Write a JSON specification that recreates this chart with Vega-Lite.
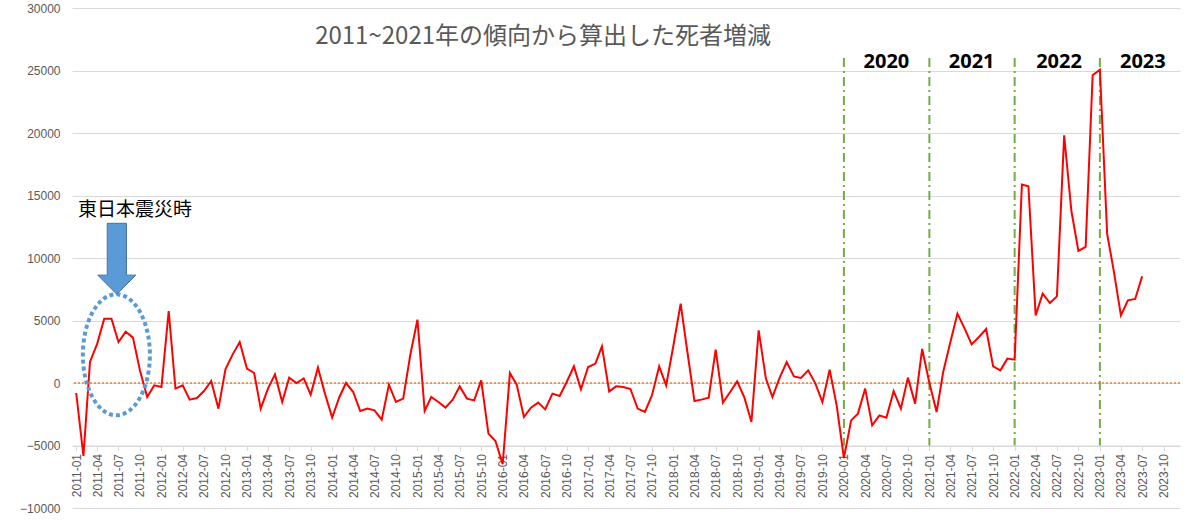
{
  "$schema": "https://vega.github.io/schema/vega-lite/v6.json",
  "width": 1108,
  "height": 500,
  "autosize": {"type": "none"},
  "padding": {"left": 72, "top": 8, "right": 20, "bottom": 14},
  "background": "white",
  "config": {
    "view": {"stroke": null},
    "axisY": {"domain": false, "ticks": false, "tickSize": 0, "labelPadding": 12, "labelFont": "Liberation Sans", "labelFontSize": 12, "labelColor": "#595959", "grid": true, "gridColor": "#D9D9D9", "gridWidth": 1},
    "axisX": {"labelAngle": -90, "labelFont": "Liberation Sans", "labelFontSize": 12, "labelColor": "#595959", "labelPadding": 3, "grid": false, "domain": true, "domainColor": "#D9D9D9", "ticks": true, "tickColor": "#D9D9D9", "tickSize": 5, "labelOverlap": false, "labelFlush": false}
  },
  "datasets": {
    "series": [
      {"date": "2011/01/01", "value": -800}, {"date": "2011/02/01", "value": -5840}, {"date": "2011/03/01", "value": 1680}, {"date": "2011/04/01", "value": 3150},
      {"date": "2011/05/01", "value": 5150}, {"date": "2011/06/01", "value": 5150}, {"date": "2011/07/01", "value": 3280}, {"date": "2011/08/01", "value": 4100},
      {"date": "2011/09/01", "value": 3630}, {"date": "2011/10/01", "value": 1000}, {"date": "2011/11/01", "value": -1120}, {"date": "2011/12/01", "value": -190},
      {"date": "2012/01/01", "value": -320}, {"date": "2012/02/01", "value": 5760}, {"date": "2012/03/01", "value": -450}, {"date": "2012/04/01", "value": -190},
      {"date": "2012/05/01", "value": -1330}, {"date": "2012/06/01", "value": -1200}, {"date": "2012/07/01", "value": -640}, {"date": "2012/08/01", "value": 160},
      {"date": "2012/09/01", "value": -2050}, {"date": "2012/10/01", "value": 1090}, {"date": "2012/11/01", "value": 2290}, {"date": "2012/12/01", "value": 3280},
      {"date": "2013/01/01", "value": 1150}, {"date": "2013/02/01", "value": 800}, {"date": "2013/03/01", "value": -2050}, {"date": "2013/04/01", "value": -450},
      {"date": "2013/05/01", "value": 690}, {"date": "2013/06/01", "value": -1520}, {"date": "2013/07/01", "value": 430}, {"date": "2013/08/01", "value": 0},
      {"date": "2013/09/01", "value": 370}, {"date": "2013/10/01", "value": -930}, {"date": "2013/11/01", "value": 1230}, {"date": "2013/12/01", "value": -850},
      {"date": "2014/01/01", "value": -2770}, {"date": "2014/02/01", "value": -1120}, {"date": "2014/03/01", "value": 0}, {"date": "2014/04/01", "value": -720},
      {"date": "2014/05/01", "value": -2240}, {"date": "2014/06/01", "value": -2050}, {"date": "2014/07/01", "value": -2190}, {"date": "2014/08/01", "value": -2930},
      {"date": "2014/09/01", "value": -130}, {"date": "2014/10/01", "value": -1520}, {"date": "2014/11/01", "value": -1250}, {"date": "2014/12/01", "value": 2200},
      {"date": "2015/01/01", "value": 5070}, {"date": "2015/02/01", "value": -2240}, {"date": "2015/03/01", "value": -1120}, {"date": "2015/04/01", "value": -1520},
      {"date": "2015/05/01", "value": -1970}, {"date": "2015/06/01", "value": -1330}, {"date": "2015/07/01", "value": -270}, {"date": "2015/08/01", "value": -1250},
      {"date": "2015/09/01", "value": -1390}, {"date": "2015/10/01", "value": 210}, {"date": "2015/11/01", "value": -4050}, {"date": "2015/12/01", "value": -4640},
      {"date": "2016/01/01", "value": -6500}, {"date": "2016/02/01", "value": 800}, {"date": "2016/03/01", "value": -130}, {"date": "2016/04/01", "value": -2720},
      {"date": "2016/05/01", "value": -1970}, {"date": "2016/06/01", "value": -1570}, {"date": "2016/07/01", "value": -2110}, {"date": "2016/08/01", "value": -850},
      {"date": "2016/09/01", "value": -1040}, {"date": "2016/10/01", "value": 80}, {"date": "2016/11/01", "value": 1330}, {"date": "2016/12/01", "value": -510},
      {"date": "2017/01/01", "value": 1280}, {"date": "2017/02/01", "value": 1550}, {"date": "2017/03/01", "value": 2930}, {"date": "2017/04/01", "value": -670},
      {"date": "2017/05/01", "value": -270}, {"date": "2017/06/01", "value": -320}, {"date": "2017/07/01", "value": -480}, {"date": "2017/08/01", "value": -2050},
      {"date": "2017/09/01", "value": -2320}, {"date": "2017/10/01", "value": -990}, {"date": "2017/11/01", "value": 1330}, {"date": "2017/12/01", "value": -190},
      {"date": "2018/01/01", "value": 3000}, {"date": "2018/02/01", "value": 6350}, {"date": "2018/03/01", "value": 2600}, {"date": "2018/04/01", "value": -1440},
      {"date": "2018/05/01", "value": -1330}, {"date": "2018/06/01", "value": -1170}, {"date": "2018/07/01", "value": 2670}, {"date": "2018/08/01", "value": -1570},
      {"date": "2018/09/01", "value": -720}, {"date": "2018/10/01", "value": 130}, {"date": "2018/11/01", "value": -1170}, {"date": "2018/12/01", "value": -3120},
      {"date": "2019/01/01", "value": 4210}, {"date": "2019/02/01", "value": 350}, {"date": "2019/03/01", "value": -1120}, {"date": "2019/04/01", "value": 430},
      {"date": "2019/05/01", "value": 1680}, {"date": "2019/06/01", "value": 530}, {"date": "2019/07/01", "value": 400}, {"date": "2019/08/01", "value": 1010},
      {"date": "2019/09/01", "value": -50}, {"date": "2019/10/01", "value": -1520}, {"date": "2019/11/01", "value": 1070}, {"date": "2019/12/01", "value": -1790},
      {"date": "2020/01/01", "value": -6000}, {"date": "2020/02/01", "value": -2990}, {"date": "2020/03/01", "value": -2450}, {"date": "2020/04/01", "value": -450},
      {"date": "2020/05/01", "value": -3390}, {"date": "2020/06/01", "value": -2590}, {"date": "2020/07/01", "value": -2770}, {"date": "2020/08/01", "value": -640},
      {"date": "2020/09/01", "value": -2050}, {"date": "2020/10/01", "value": 430}, {"date": "2020/11/01", "value": -1650}, {"date": "2020/12/01", "value": 2720},
      {"date": "2021/01/01", "value": 0}, {"date": "2021/02/01", "value": -2320}, {"date": "2021/03/01", "value": 880}, {"date": "2021/04/01", "value": 3280},
      {"date": "2021/05/01", "value": 5550}, {"date": "2021/06/01", "value": 4350}, {"date": "2021/07/01", "value": 3090}, {"date": "2021/08/01", "value": 3680},
      {"date": "2021/09/01", "value": 4320}, {"date": "2021/10/01", "value": 1330}, {"date": "2021/11/01", "value": 1010}, {"date": "2021/12/01", "value": 1950},
      {"date": "2022/01/01", "value": 1870}, {"date": "2022/02/01", "value": 15870}, {"date": "2022/03/01", "value": 15730}, {"date": "2022/04/01", "value": 5410},
      {"date": "2022/05/01", "value": 7150}, {"date": "2022/06/01", "value": 6400}, {"date": "2022/07/01", "value": 6930}, {"date": "2022/08/01", "value": 19820},
      {"date": "2022/09/01", "value": 13760}, {"date": "2022/10/01", "value": 10560}, {"date": "2022/11/01", "value": 10880}, {"date": "2022/12/01", "value": 24620},
      {"date": "2023/01/01", "value": 25070}, {"date": "2023/02/01", "value": 11950}, {"date": "2023/03/01", "value": 9010}, {"date": "2023/04/01", "value": 5410},
      {"date": "2023/05/01", "value": 6610}, {"date": "2023/06/01", "value": 6720}, {"date": "2023/07/01", "value": 8530}
    ],
    "dividers": [
      {"date": "2020/01/01", "top": 26000, "bottom": -5000}, {"date": "2021/01/01", "top": 26000, "bottom": -5000},
      {"date": "2022/01/01", "top": 26000, "bottom": -5000}, {"date": "2023/01/01", "top": 26000, "bottom": -5000}
    ],
    "zero": [{"value": 0}],
    "years": [
      {"date": "2020/07/01", "value": 25700, "text": "2020"},
      {"date": "2021/07/01", "value": 25700, "text": "2021"},
      {"date": "2022/07/10", "value": 25700, "text": "2022"},
      {"date": "2023/07/04", "value": 25700, "text": "2023"}
    ],
    "title": [
      {"date": "2016/06/22", "value": 27650, "text": "2011~2021年の傾向から算出した死者増減"}
    ],
    "note": [
      {"date": "2011/09/10", "value": 13820, "text": "東日本震災時"}
    ],
    "ellipse": [{"date": "2011/06/22", "value": 2256}],
    "arrow": [{"date": "2011/06/24", "value": 9936}]
  },
  "layer": [
    {
      "data": {"name": "zero"},
      "mark": {"type": "rule", "color": "#ED7D31", "strokeWidth": 1.5, "strokeDash": [2, 2]},
      "encoding": {
        "y": {"field": "value", "type": "quantitative",
          "scale": {"domain": [-10000, 30000], "nice": false, "zero": false},
          "axis": {"title": null, "format": "d", "values": [-10000, -5000, 0, 5000, 10000, 15000, 20000, 25000, 30000]}}
      }
    },
    {
      "data": {"name": "dividers"},
      "mark": {"type": "rule", "color": "#70AD47", "strokeWidth": 2, "strokeDash": [9, 4, 2, 4]},
      "encoding": {
        "x": {"field": "date", "type": "temporal",
          "scale": {"domain": [{"year": 2010, "month": 12, "date": 14}, {"year": 2023, "month": 12, "date": 10}], "nice": false},
          "axis": {"title": null, "format": "%Y-%m", "tickCount": {"interval": "month", "step": 3}, "offset": -62.5}},
        "y": {"field": "top", "type": "quantitative",
          "axis": {"title": null, "format": "d", "values": [-10000, -5000, 0, 5000, 10000, 15000, 20000, 25000, 30000]}},
        "y2": {"field": "bottom"}
      }
    },
    {
      "data": {"name": "series"},
      "mark": {"type": "line", "color": "#FF0000", "strokeWidth": 2},
      "encoding": {
        "x": {"field": "date", "type": "temporal",
          "axis": {"title": null, "format": "%Y-%m", "tickCount": {"interval": "month", "step": 3}, "offset": -62.5}},
        "y": {"field": "value", "type": "quantitative",
          "axis": {"title": null, "format": "d", "values": [-10000, -5000, 0, 5000, 10000, 15000, 20000, 25000, 30000]}}
      }
    },
    {
      "data": {"name": "years"},
      "mark": {"type": "text", "font": "Open Sans", "fontSize": 20, "fontWeight": "bold", "color": "#000000", "align": "center", "baseline": "middle"},
      "encoding": {
        "x": {"field": "date", "type": "temporal",
          "axis": {"title": null, "format": "%Y-%m", "tickCount": {"interval": "month", "step": 3}, "offset": -62.5}},
        "y": {"field": "value", "type": "quantitative",
          "axis": {"title": null, "format": "d", "values": [-10000, -5000, 0, 5000, 10000, 15000, 20000, 25000, 30000]}},
        "text": {"field": "text"}
      }
    },
    {
      "data": {"name": "title"},
      "mark": {"type": "text", "font": "Noto Sans CJK JP", "fontSize": 24, "color": "#595959", "align": "center", "baseline": "middle"},
      "encoding": {
        "x": {"field": "date", "type": "temporal",
          "axis": {"title": null, "format": "%Y-%m", "tickCount": {"interval": "month", "step": 3}, "offset": -62.5}},
        "y": {"field": "value", "type": "quantitative",
          "axis": {"title": null, "format": "d", "values": [-10000, -5000, 0, 5000, 10000, 15000, 20000, 25000, 30000]}},
        "text": {"field": "text"}
      }
    },
    {
      "data": {"name": "note"},
      "mark": {"type": "text", "font": "Noto Sans CJK JP", "fontSize": 19, "color": "#000000", "align": "center", "baseline": "middle"},
      "encoding": {
        "x": {"field": "date", "type": "temporal",
          "axis": {"title": null, "format": "%Y-%m", "tickCount": {"interval": "month", "step": 3}, "offset": -62.5}},
        "y": {"field": "value", "type": "quantitative",
          "axis": {"title": null, "format": "d", "values": [-10000, -5000, 0, 5000, 10000, 15000, 20000, 25000, 30000]}},
        "text": {"field": "text"}
      }
    },
    {
      "data": {"name": "ellipse"},
      "mark": {"type": "point", "filled": false, "opacity": 1, "stroke": "#5B9BD5", "strokeWidth": 4, "strokeDash": [4, 3],
        "size": 14641,
        "shape": "M 0 -1 C 0.306 -1 0.554 -0.552 0.554 0 C 0.554 0.552 0.306 1 0 1 C -0.306 1 -0.554 0.552 -0.554 0 C -0.554 -0.552 -0.306 -1 0 -1 Z"},
      "encoding": {
        "x": {"field": "date", "type": "temporal",
          "axis": {"title": null, "format": "%Y-%m", "tickCount": {"interval": "month", "step": 3}, "offset": -62.5}},
        "y": {"field": "value", "type": "quantitative",
          "axis": {"title": null, "format": "d", "values": [-10000, -5000, 0, 5000, 10000, 15000, 20000, 25000, 30000]}}
      }
    },
    {
      "data": {"name": "arrow"},
      "mark": {"type": "point", "filled": true, "opacity": 1, "fill": "#5B9BD5", "fillOpacity": 1, "stroke": "#41719C", "strokeWidth": 1,
        "size": 5041,
        "shape": "M -0.27 -1 L 0.27 -1 L 0.27 0.46 L 0.535 0.46 L 0 1 L -0.535 0.46 L -0.27 0.46 Z"},
      "encoding": {
        "x": {"field": "date", "type": "temporal",
          "axis": {"title": null, "format": "%Y-%m", "tickCount": {"interval": "month", "step": 3}, "offset": -62.5}},
        "y": {"field": "value", "type": "quantitative",
          "axis": {"title": null, "format": "d", "values": [-10000, -5000, 0, 5000, 10000, 15000, 20000, 25000, 30000]}}
      }
    }
  ]
}
